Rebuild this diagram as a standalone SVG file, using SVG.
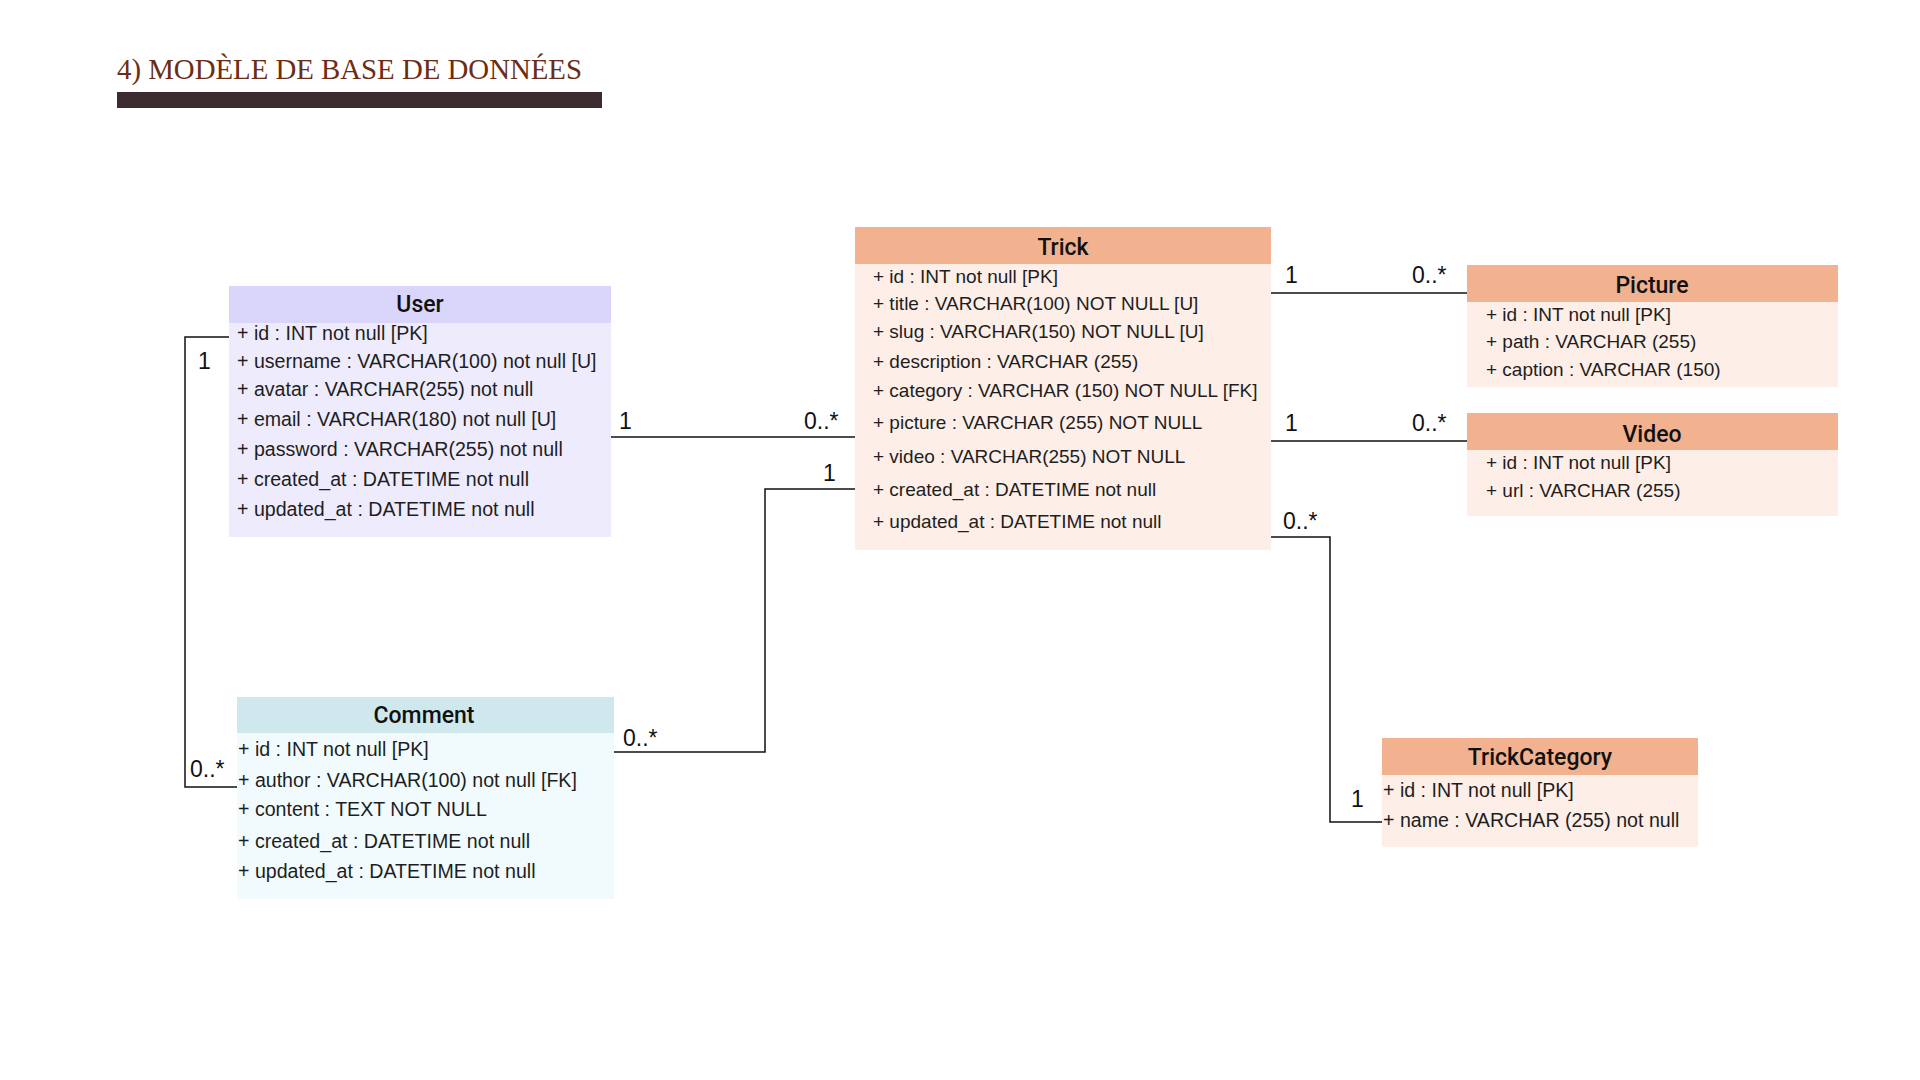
<svg xmlns="http://www.w3.org/2000/svg" width="1920" height="1080" viewBox="0 0 1920 1080">
<style>
.row{font-family:"Liberation Sans",Arial,sans-serif;font-size:19px;fill:#1e1e1e}
.row2{font-family:"Liberation Sans",Arial,sans-serif;font-size:19.6px;fill:#1e1e1e}
.ttl{font-family:Roboto,"Liberation Sans",Arial,sans-serif;font-size:23px;font-weight:500;fill:#111;text-anchor:middle}
.lbl{font-family:"Liberation Sans",Arial,sans-serif;font-size:23px;fill:#111}
.conn{fill:none;stroke:#111;stroke-width:1.5}
.hdr-o{fill:#f2b28f}.body-o{fill:#fdeee7}
.hdr-u{fill:#d9d5fb}.body-u{fill:#eeebfd}
.hdr-c{fill:#cfe8ee}.body-c{fill:#f1fbfd}
</style>
<rect width="1920" height="1080" fill="#ffffff"/>
<g id="title">
<text x="117" y="79" font-family="'Liberation Serif','Times New Roman',serif" font-size="30" fill="#6b2d14" textLength="465" lengthAdjust="spacingAndGlyphs">4) MODÈLE DE BASE DE DONNÉES</text>
<rect x="117" y="92" width="485" height="16" fill="#3e2b30"/>
</g>
<g id="connectors">
<polyline class="conn" points="229,337 185,337 185,787 237,787"/>
<line class="conn" x1="611" y1="437" x2="855" y2="437"/>
<polyline class="conn" points="614,752 765,752 765,489 855,489"/>
<line class="conn" x1="1271" y1="293" x2="1467" y2="293"/>
<line class="conn" x1="1271" y1="441" x2="1467" y2="441"/>
<polyline class="conn" points="1271,537 1330,537 1330,822 1383,822"/>
<text class="lbl" x="198" y="369">1</text>
<text class="lbl" x="190" y="777">0..*</text>
<text class="lbl" x="619" y="429">1</text>
<text class="lbl" x="804" y="429">0..*</text>
<text class="lbl" x="623" y="746">0..*</text>
<text class="lbl" x="823" y="481">1</text>
<text class="lbl" x="1285" y="283">1</text>
<text class="lbl" x="1412" y="283">0..*</text>
<text class="lbl" x="1285" y="431">1</text>
<text class="lbl" x="1412" y="431">0..*</text>
<text class="lbl" x="1283" y="529">0..*</text>
<text class="lbl" x="1351" y="807">1</text>
</g>
<g id="User">
<rect class="body-u" x="229" y="286" width="382" height="251"/>
<rect class="hdr-u" x="229" y="286" width="382" height="37"/>
<text class="ttl" x="420" y="312">User</text>
<text class="row2" x="237" y="340">+ id : INT not null [PK]</text>
<text class="row2" x="237" y="368">+ username : VARCHAR(100) not null [U]</text>
<text class="row2" x="237" y="396">+ avatar : VARCHAR(255) not null</text>
<text class="row2" x="237" y="426">+ email : VARCHAR(180) not null [U]</text>
<text class="row2" x="237" y="456">+ password : VARCHAR(255) not null</text>
<text class="row2" x="237" y="486">+ created_at : DATETIME not null</text>
<text class="row2" x="237" y="516">+ updated_at : DATETIME not null</text>
</g>
<g id="Comment">
<rect class="body-c" x="237" y="697" width="377" height="202"/>
<rect class="hdr-c" x="237" y="697" width="377" height="36"/>
<text class="ttl" x="424" y="723">Comment</text>
<text class="row2" x="238" y="756">+ id : INT not null [PK]</text>
<text class="row2" x="238" y="787">+ author : VARCHAR(100) not null [FK]</text>
<text class="row2" x="238" y="816">+ content : TEXT NOT NULL</text>
<text class="row2" x="238" y="848">+ created_at : DATETIME not null</text>
<text class="row2" x="238" y="878">+ updated_at : DATETIME not null</text>
</g>
<g id="Trick">
<rect class="body-o" x="855" y="227" width="416" height="323"/>
<rect class="hdr-o" x="855" y="227" width="416" height="37"/>
<text class="ttl" x="1063" y="255">Trick</text>
<text class="row" x="873" y="283">+ id : INT not null [PK]</text>
<text class="row" x="873" y="310">+ title : VARCHAR(100) NOT NULL [U]</text>
<text class="row" x="873" y="338">+ slug : VARCHAR(150) NOT NULL [U]</text>
<text class="row" x="873" y="368">+ description : VARCHAR (255)</text>
<text class="row" x="873" y="397">+ category : VARCHAR (150) NOT NULL [FK]</text>
<text class="row" x="873" y="429">+ picture : VARCHAR (255) NOT NULL</text>
<text class="row" x="873" y="463">+ video : VARCHAR(255) NOT NULL</text>
<text class="row" x="873" y="496">+ created_at : DATETIME not null</text>
<text class="row" x="873" y="528">+ updated_at : DATETIME not null</text>
</g>
<g id="Picture">
<rect class="body-o" x="1467" y="265" width="371" height="122"/>
<rect class="hdr-o" x="1467" y="265" width="371" height="37"/>
<text class="ttl" x="1652" y="293">Picture</text>
<text class="row" x="1486" y="321">+ id : INT not null [PK]</text>
<text class="row" x="1486" y="348">+ path : VARCHAR (255)</text>
<text class="row" x="1486" y="376">+ caption : VARCHAR (150)</text>
</g>
<g id="Video">
<rect class="body-o" x="1467" y="413" width="371" height="103"/>
<rect class="hdr-o" x="1467" y="413" width="371" height="37"/>
<text class="ttl" x="1652" y="442">Video</text>
<text class="row" x="1486" y="469">+ id : INT not null [PK]</text>
<text class="row" x="1486" y="497">+ url : VARCHAR (255)</text>
</g>
<g id="TrickCategory">
<rect class="body-o" x="1382" y="738" width="316" height="109"/>
<rect class="hdr-o" x="1382" y="738" width="316" height="37"/>
<text class="ttl" x="1540" y="765">TrickCategory</text>
<text class="row2" x="1383" y="797">+ id : INT not null [PK]</text>
<text class="row2" x="1383" y="827">+ name : VARCHAR (255) not null</text>
</g>
</svg>
